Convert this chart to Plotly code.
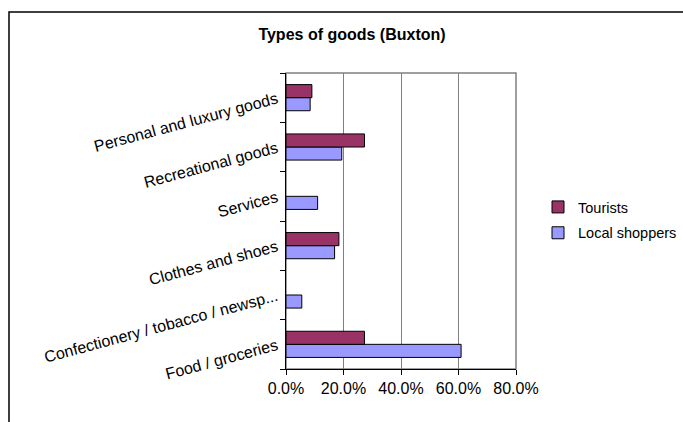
import plotly.graph_objects as go

# Categories listed bottom-to-top on the category axis
categories = [
    "Food / groceries",
    "Confectionery / tobacco / newsp...",
    "Clothes and shoes",
    "Services",
    "Recreational goods",
    "Personal and luxury goods",
]
local_shoppers = [0.609, 0.055, 0.169, 0.110, 0.194, 0.084]
tourists = [0.273, None, 0.184, None, 0.273, 0.090]
x_ticks = [0.0, 0.2, 0.4, 0.6, 0.8]
x_tick_labels = ["0.0%", "20.0%", "40.0%", "60.0%", "80.0%"]

FONT = "Liberation Sans, Arial, sans-serif"

fig = go.Figure()
fig.add_trace(go.Bar(
    y=categories, x=local_shoppers, orientation="h", name="Local shoppers",
    legendgroup="b", legendrank=2,
    marker=dict(color="#9999FF", line=dict(color="#000000", width=1)),
))
fig.add_trace(go.Bar(
    y=categories, x=tourists, orientation="h", name="Tourists",
    legendgroup="a", legendrank=1,
    marker=dict(color="#993366", line=dict(color="#000000", width=1)),
))

W, H = 683, 422
L, R, T, B = 286, 516, 73, 369


def px_x(x):
    return (x - L) / (R - L)


def px_y(y):
    return (B - y) / (B - T)


fig.update_layout(
    width=W, height=H,
    margin=dict(l=L, r=W - R, t=T, b=H - B, autoexpand=False),
    paper_bgcolor="white", plot_bgcolor="white",
    barmode="group", bargap=0.47, bargroupgap=0,
    font=dict(family=FONT, size=16, color="#000000"),
    title=dict(text="<b>Types of goods (Buxton)</b>", x=352 / W, xanchor="center",
               y=1 - 34 / H, yanchor="middle", yref="container",
               font=dict(family=FONT, size=16, color="#000000")),
    showlegend=True,
    legend=dict(xref="container", yref="container",
                x=538 / W, xanchor="left", y=1 - 220 / H, yanchor="middle",
                traceorder="grouped", tracegroupgap=4,
                font=dict(family=FONT, size=14.5), bgcolor="rgba(0,0,0,0)",
                itemwidth=30),
    xaxis=dict(range=[0, 0.8], tickvals=x_ticks, ticktext=x_tick_labels,
               showgrid=True, gridcolor="#808080", gridwidth=1,
               showline=True, linecolor="#000000", linewidth=1,
               ticks="outside", ticklen=5, tickcolor="#000000",
               zeroline=False, fixedrange=True),
    yaxis=dict(type="category", categoryorder="array", categoryarray=categories,
               tickangle=-15, showgrid=False,
               showline=True, linecolor="#000000", linewidth=1,
               ticks="outside", ticklen=5, tickcolor="#000000",
               ticklabelstandoff=5,
               tickson="boundaries", zeroline=False, fixedrange=True),
    shapes=[
        # plot area border
        dict(type="rect", xref="paper", yref="paper", x0=0, x1=1, y0=0, y1=1,
             line=dict(color="#808080", width=1.5), layer="below"),
        # chart frame
        dict(type="rect", xref="paper", yref="paper",
             x0=px_x(9), x1=px_x(700), y0=px_y(440), y1=px_y(12),
             line=dict(color="#000000", width=1.5), layer="below"),
    ],
)

fig.write_html("out.html")
